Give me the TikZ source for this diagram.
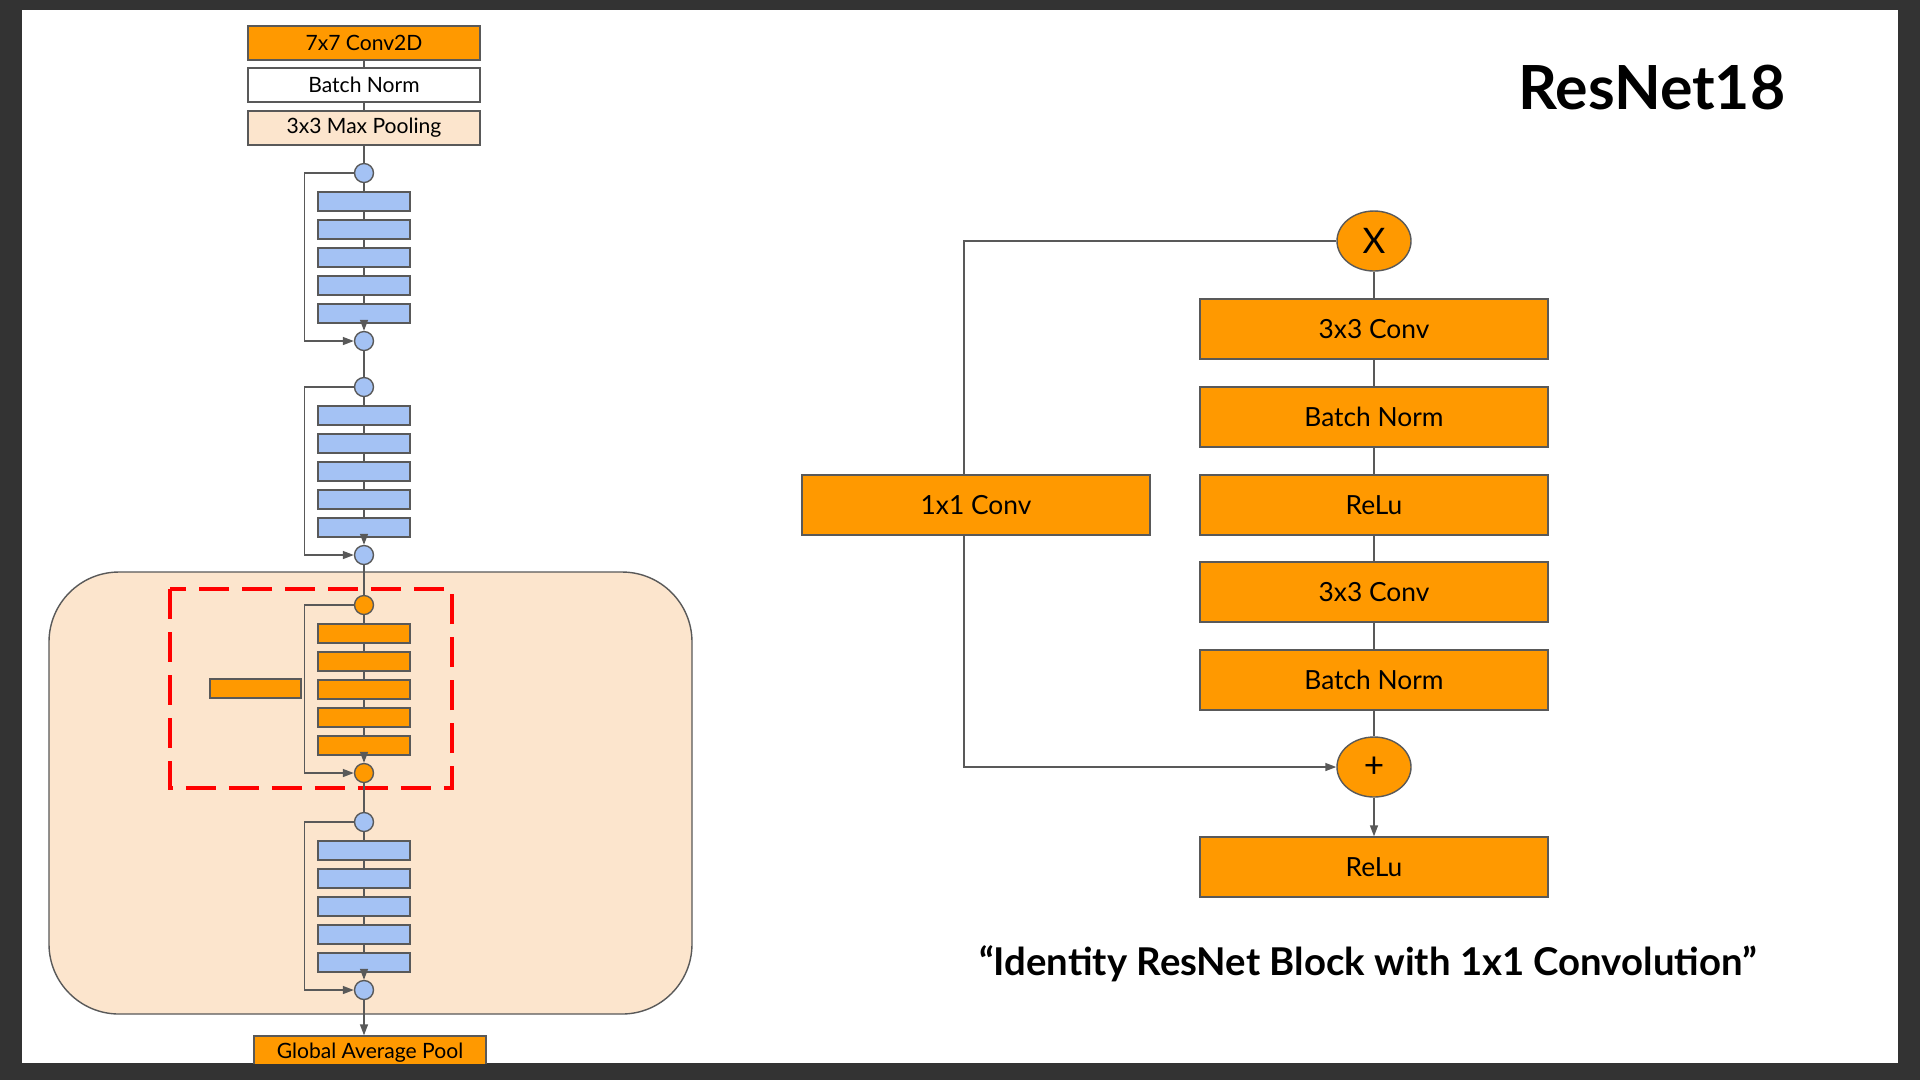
\documentclass[tikz,border=0pt]{standalone}
\usepackage{fontspec}
\setmainfont{Lato}
\usepackage{tikz}
\usetikzlibrary{shapes.geometric,arrows.meta}
\definecolor{slideorange}{HTML}{FF9900}
\definecolor{layerblue}{HTML}{A4C2F4}
\definecolor{peach}{HTML}{FCE5CD}
\definecolor{edgegray}{HTML}{595959}
\definecolor{framedark}{HTML}{333333}

\tikzset{
  link/.style={draw=edgegray, line width=0.14mm},
  arr/.style={link, -{Triangle[length=1.1mm,width=0.8mm]}},
  layer/.style={link, minimum width=9.2mm, minimum height=1.9mm, inner sep=0pt},
  joint/.style={link, circle, minimum size=1.9mm, inner sep=0pt},
  stembox/.style={link, minimum width=23.2mm, minimum height=3.4mm, inner sep=0pt, font=\fontsize{6pt}{7pt}\selectfont},
  blockbox/.style={link, fill=slideorange, minimum width=34.8mm, minimum height=6mm, inner sep=0pt, font=\fontsize{7.5pt}{9pt}\selectfont},
  opnode/.style={link, ellipse, fill=slideorange, minimum width=7.4mm, minimum height=6mm, inner sep=0pt, font=\fontsize{10pt}{12pt}\selectfont}
}

\begin{document}
\begin{tikzpicture}[x=0.1mm, y=-0.1mm]
    \useasboundingbox (0,0) rectangle (1920,1080);
    % slide frame
    \fill[framedark] (0,0) rectangle (1920,1080);
    \fill[white] (22,10) rectangle (1898,1063);

    \begin{scope}
    \clip (22,10) rectangle (1898,1063);

    % highlighted stage
    \draw[link, fill=peach, rounded corners=7mm] (49,572) rectangle (692,1014);
    \draw[red, line width=0.35mm, dash pattern=on 3mm off 1.3mm] (170,589) rectangle (452,788);

    % stem
    \node[stembox, fill=slideorange] (conv7) at (364,43) {7x7 Conv2D};
    \node[stembox, fill=white] (bnorm) at (364,85) {Batch Norm};
    \node[stembox, fill=peach] (maxpool) at (364,128) {3x3 Max Pooling};
    \draw[link] (conv7) -- (bnorm);
    \draw[link] (bnorm) -- (maxpool);

    % residual stages
    \foreach \blk/\ytop/\col in {1/173/layerblue, 2/387/layerblue, 3/605/slideorange, 4/822/layerblue} {
        \node[joint, fill=\col] (in\blk) at (364,\ytop) {};
        \foreach \k in {1,...,5}
            \node[layer, fill=\col] (l\blk\k) at (364,\ytop+0.5+28*\k) {};
        \node[joint, fill=\col] (out\blk) at (364,\ytop+168) {};
        \draw[link] (in\blk) -- (l\blk1);
        \foreach \k/\n in {1/2, 2/3, 3/4, 4/5}
            \draw[link] (l\blk\k) -- (l\blk\n);
        \draw[arr] (l\blk5) -- (out\blk);
        \draw[arr] (in\blk.west) -- ++(-49.5,0) |- (out\blk.west);
    }
    \node[layer, fill=slideorange, minimum width=9.1mm] (shortcut) at (255.5,688.5) {};

    \draw[link] (maxpool) -- (in1);
    \draw[link] (out1) -- (in2);
    \draw[link] (out2) -- (in3);
    \draw[link] (out3) -- (in4);

    \node[stembox, fill=slideorange] (gap) at (370,1053) {Global Average Pool};
    \draw[arr] (out4) -- (out4 |- gap.north);
    \end{scope}

    % block detail
    \node[font=\bfseries\fontsize{17.3pt}{20pt}\selectfont, anchor=base] (title) at (1652,109) {ResNet18};

    \node[opnode] (xin) at (1374,241) {X};
    \node[blockbox] (conva) at (1374,329) {3x3 Conv};
    \node[blockbox] (bna) at (1374,417) {Batch Norm};
    \node[blockbox] (relua) at (1374,505) {ReLu};
    \node[blockbox] (convb) at (1374,592) {3x3 Conv};
    \node[blockbox] (bnb) at (1374,680) {Batch Norm};
    \node[opnode] (plus) at (1374,767) {+};
    \node[blockbox] (relub) at (1374,867) {ReLu};
    \node[blockbox] (convone) at (976,505) {1x1 Conv};

    \draw[link] (xin) -- (conva);
    \draw[link] (conva) -- (bna);
    \draw[link] (bna) -- (relua);
    \draw[link] (relua) -- (convb);
    \draw[link] (convb) -- (bnb);
    \draw[link] (bnb) -- (plus);
    \draw[arr] (plus) -- (relub);

    \coordinate (skiptop) at (964,241);
    \coordinate (skipbot) at (964,767);
    \draw[link] (xin) -- (skiptop) -- (skiptop |- convone.north);
    \draw[arr] (skiptop |- convone.south) -- (skipbot) -- (plus);

    \node[font=\bfseries\fontsize{10.9pt}{13pt}\selectfont, anchor=base] (caption) at (1368,975) {“Identity ResNet Block with 1x1 Convolution”};
\end{tikzpicture}
\end{document}
